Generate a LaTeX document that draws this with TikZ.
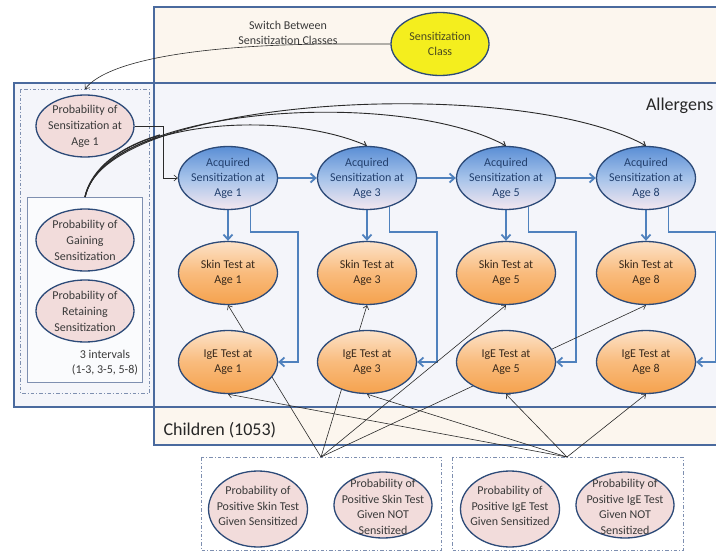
\documentclass[tikz,border=0pt]{standalone}
\usepackage{fontspec}
\setmainfont{Carlito}
\usetikzlibrary{shapes.geometric,arrows.meta,calc}
\pgfdeclarelayer{bg}
\pgfdeclarelayer{edges}
\pgfsetlayers{bg,edges,main}
\definecolor{boxB}{HTML}{4A6A9E}
\definecolor{ddC}{HTML}{7E8FB0}
\definecolor{nodeB}{HTML}{2C4A78}
\definecolor{acqTop}{HTML}{5A8ED5}
\definecolor{acqMid}{HTML}{A6C3EA}
\definecolor{acqBot}{HTML}{F4E7EF}
\definecolor{oTop}{HTML}{FCE2C8}
\definecolor{oMid}{HTML}{F9BB7C}
\definecolor{oBot}{HTML}{F5A24E}
\definecolor{pinkF}{HTML}{F2DCDB}
\definecolor{yelF}{HTML}{F4EE1E}
\definecolor{blueC}{HTML}{4F81BD}
\definecolor{lineC}{HTML}{2A2A2A}
\definecolor{creamF}{HTML}{FCF6EE}
\definecolor{allF}{HTML}{F4F5FA}
\definecolor{innerF}{HTML}{FAFBFD}
\definecolor{acqT}{HTML}{23406E}
\definecolor{oT}{HTML}{3A2A1C}
\definecolor{pT}{HTML}{3A3A3A}
\definecolor{clsT}{HTML}{4A4A20}
\newcommand\enode[4]{\node[#1, label={[#1txt]center:{#4}}] (#2) at (#3) {};}
\begin{document}
\begin{tikzpicture}[x=1pt,y=-1pt,
  boxline/.style={draw=boxB, line width=1.4pt},
  ddbox/.style={draw=ddC, line width=0.9pt, dash pattern=on 3.5pt off 2pt on 1pt off 2pt},
  ell/.style={ellipse, draw=nodeB, line width=1.3pt, inner sep=0pt},
  acq/.style={ell, minimum width=99pt, minimum height=63pt, top color=acqTop, bottom color=acqBot, middle color=acqMid},
  acqtxt/.style={align=center, font=\fontsize{12}{15}\selectfont, text=acqT},
  tst/.style={ell, minimum width=99pt, minimum height=63pt, top color=oTop, bottom color=oBot, middle color=oMid},
  tsttxt/.style={align=center, font=\fontsize{12}{15}\selectfont, text=oT},
  prb/.style={ell, fill=pinkF, minimum width=98pt, minimum height=62pt},
  prbtxt/.style={align=center, font=\fontsize{12}{16}\selectfont, text=pT},
  prbb/.style={ell, fill=pinkF, minimum width=99pt, minimum height=76pt},
  prbbtxt/.style={align=center, font=\fontsize{12}{15.5}\selectfont, text=pT, yshift=3pt},
  prbn/.style={ell, fill=pinkF, minimum width=98pt, minimum height=66pt},
  prbntxt/.style={align=center, font=\fontsize{12}{15.5}\selectfont, text=pT, yshift=-2pt},
  cls/.style={ell, fill=yelF, minimum width=98pt, minimum height=63pt},
  clstxt/.style={align=center, font=\fontsize{12}{15}\selectfont, text=clsT},
  thinarr/.style={draw=lineC, line width=0.6pt, -{Straight Barb[length=3.5pt,width=6pt]}},
  bluearr/.style={draw=blueC, line width=1.8pt, -{Straight Barb[length=5pt,width=9pt]}},
  plain/.style={font=\fontsize{12}{15}\selectfont, text=pT, align=center},
  big/.style={font=\fontsize{18}{20}\selectfont, text=black!85}
]
\useasboundingbox (0,0) rectangle (716,554);

% ---------- boxes ----------
\begin{pgfonlayer}{bg}
  \fill[white] (0,0) rectangle (716,554);
  \fill[creamF] (154,7) rectangle (730,445);
  \filldraw[fill=allF, boxline] (14,83) rectangle (730,407);
  \draw[boxline] (154,7) rectangle (730,445);
  \filldraw[fill=allF, ddbox] (20,89) rectangle (149,393);
  \filldraw[fill=innerF, draw=ddC, line width=0.9pt] (27,197) rectangle (142,382);
  \filldraw[fill=white, ddbox] (201,457) rectangle (441,550);
  \filldraw[fill=white, ddbox] (452,457) rectangle (683,550);
\end{pgfonlayer}

\coordinate (ddtop) at (85,89);
\coordinate (ibtop) at (85,197);
\coordinate (A) at (321,457);
\coordinate (B) at (567,457);

% ---------- texts ----------
\node[plain] (switch) at (288,33) {Switch Between\\Sensitization Classes};
\node[big, anchor=east] (allerg) at (717,106) {Allergens};
\node[big, anchor=west] (child) at (160,430) {Children (1053)};
\node[plain] (intv) at (105,363) {3 intervals\\(1-3, 3-5, 5-8)};

% ---------- nodes ----------
\enode{cls}{cls}{440,44}{Sensitization\\Class}
\enode{prb}{pS}{85,126}{Probability of\\Sensitization at\\Age 1}
\enode{prb}{pG}{85,240}{Probability of\\Gaining\\Sensitization}
\enode{prb}{pR}{85,311}{Probability of\\Retaining\\Sensitization}

\enode{acq}{acq1}{228,178}{Acquired\\Sensitization at\\Age 1}
\enode{acq}{acq3}{367,178}{Acquired\\Sensitization at\\Age 3}
\enode{acq}{acq5}{506,178}{Acquired\\Sensitization at\\Age 5}
\enode{acq}{acq8}{646,178}{Acquired\\Sensitization at\\Age 8}

\enode{tst}{skin1}{228,273}{Skin Test at\\Age 1}
\enode{tst}{skin3}{367,273}{Skin Test at\\Age 3}
\enode{tst}{skin5}{506,273}{Skin Test at\\Age 5}
\enode{tst}{skin8}{646,273}{Skin Test at\\Age 8}

\enode{tst}{ige1}{228,362}{IgE Test at\\Age 1}
\enode{tst}{ige3}{367,362}{IgE Test at\\Age 3}
\enode{tst}{ige5}{506,362}{IgE Test at\\Age 5}
\enode{tst}{ige8}{646,362}{IgE Test at\\Age 8}

\enode{prbb}{b1}{258,509}{Probability of\\Positive Skin Test\\Given Sensitized}
\enode{prbn}{b2}{383,505}{Probability of\\Positive Skin Test\\Given NOT\\Sensitized}
\enode{prbb}{b3}{510,509}{Probability of\\Positive IgE Test\\Given Sensitized}
\enode{prbn}{b4}{625,505}{Probability of\\Positive IgE Test\\Given NOT\\Sensitized}

% ---------- connectors ----------
\begin{pgfonlayer}{edges}
  \draw[thinarr] (cls.west) -- (330,44) .. controls (200,45) and (108,60) .. (ddtop);
  \draw[thinarr] (pS.east) -| ($(acq1.west)+(-15,0)$) -- (acq1.west);
  \draw[thinarr, line width=0.9pt] (ibtop) .. controls (105,120) and (280,108) .. (acq3.north);
  \draw[thinarr, line width=0.9pt] (ibtop) .. controls (105,105) and (400,88) .. (acq5.north);
  \draw[thinarr, line width=0.9pt] (ibtop) .. controls (105,95) and (520,75) .. (acq8.north);
  \draw[lineC, line width=1.4pt] (ibtop) .. controls (90,175) and (110,150) .. (160,135);

  \draw[bluearr] (acq1.east) -- (acq3.west);
  \draw[bluearr] (acq3.east) -- (acq5.west);
  \draw[bluearr] (acq5.east) -- (acq8.west);
  \foreach \n in {1,3,5,8}{
    \draw[bluearr] (acq\n.south) -- (skin\n.north);
    \draw[bluearr] (acq\n.-52) |- ($(ige\n.east)+(20,-130)$) |- (ige\n.east);
  }
  \foreach \n in {1,3,5,8}{
    \draw[thinarr] (A) -- (skin\n.south);
    \draw[thinarr] (B) -- (ige\n.south);
  }
\end{pgfonlayer}
\end{tikzpicture}
\end{document}
